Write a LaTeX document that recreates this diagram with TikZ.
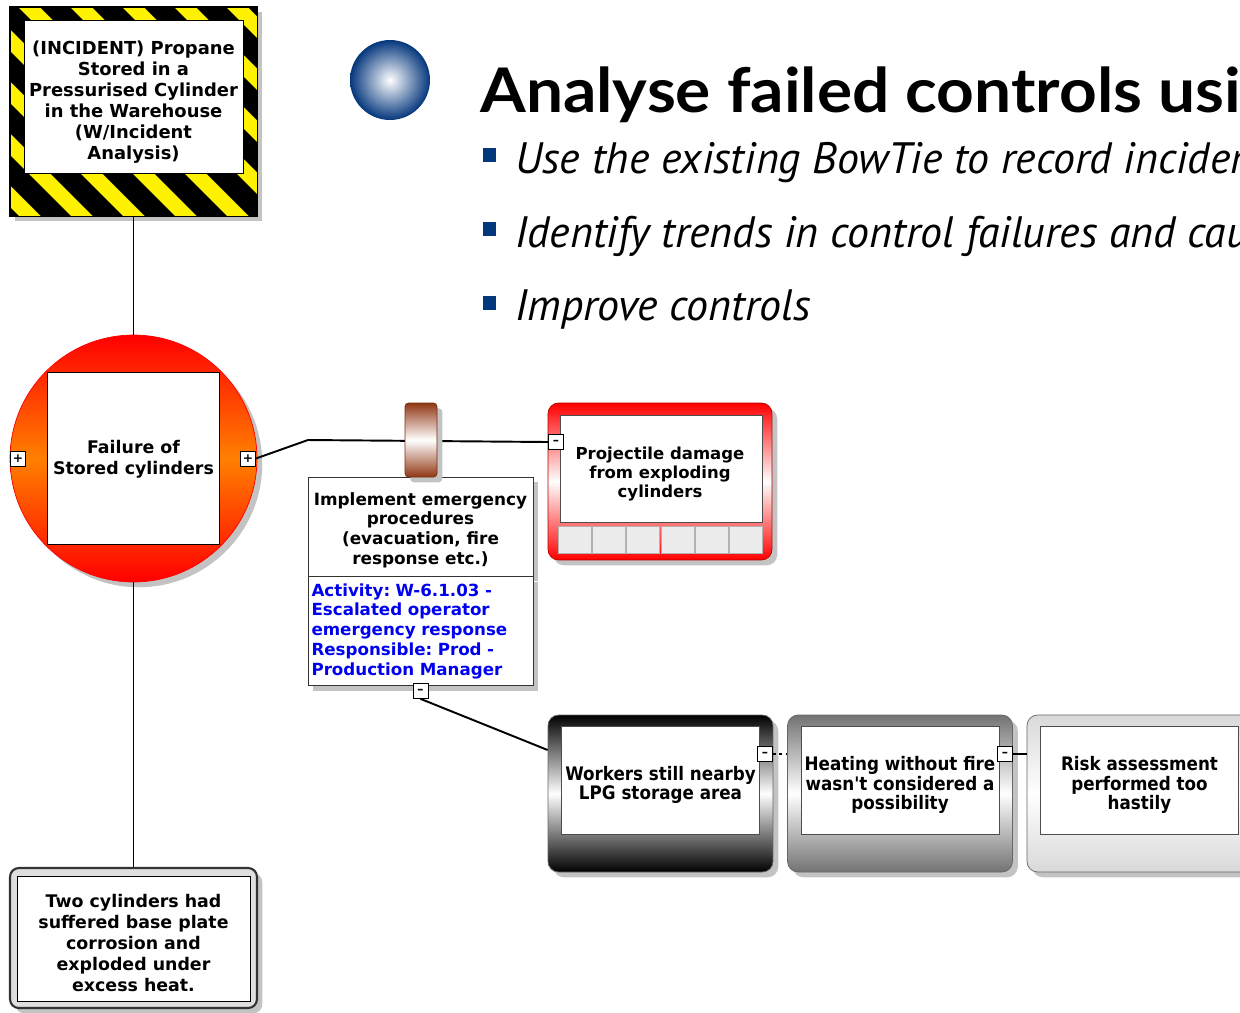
\documentclass[tikz,border=0pt]{standalone}
\usepackage{fontspec}
\setmainfont{DejaVu Sans}
\newfontfamily\condfont{DejaVu Sans Condensed}
\newfontfamily\slidefont[FakeStretch=1.07]{Lato}
\newfontfamily\bulletfont{PT Sans}
\usetikzlibrary{shadows}

\definecolor{slideblue}{RGB}{5,55,125}
\definecolor{barrierbrown}{RGB}{145,55,20}
\definecolor{infoblue}{RGB}{0,0,240}
\definecolor{shadowgrey}{RGB}{195,195,195}

\begin{document}
\frenchspacing
\begin{tikzpicture}[x=0.02cm,y=-0.02cm]
	\tikzset{txt/.style = {font=\bfseries\fontsize{9.9}{11.9}\selectfont, align=center, inner sep=0pt}}
	\tikzset{link/.style = {line width=1.1pt}}
	\tikzset{shadowed/.style = {drop shadow={shadow xshift=3pt, shadow yshift=-3pt, fill=shadowgrey, opacity=1}}}
	\tikzset{pm/.style = {draw, fill=white, minimum size=0.3cm, inner sep=0pt, font=\scriptsize\bfseries}}
	\tikzset{causeframe/.style = {draw=black!60, rounded corners=6pt, minimum width=4.5cm, minimum height=3.14cm, top color=#1, bottom color=#1, middle color=white, shadowed}}
	\tikzset{whitebox/.style = {draw=black!70, fill=white}}
	\tikzset{condtxt/.style = {align=center, inner sep=0pt, font=\condfont\bfseries\fontsize{10.6}{11}\selectfont}}
	\tikzset{bullet/.style = {fill=slideblue, minimum width=0.26cm, minimum height=0.28cm, inner sep=0pt}}
	\tikzset{point/.style = {anchor=base west, inner sep=0pt, font=\bulletfont\itshape\fontsize{25}{30}\selectfont}}

	\useasboundingbox (0,0) rectangle (1240,1012);
	\clip (0,0) rectangle (1240,1012);

	% hazard
	\node[draw, fill=yellow, minimum width=4.94cm, minimum height=4.18cm, shadowed] (hazard) at (133.5,111.5) {};
	\begin{scope}
		\clip (hazard.north west) rectangle (hazard.south east);
		\foreach \s in {-227,-175,...,241}
			\fill (\s,0) -- ++(30,0) -- ++(230,230) -- ++(-30,0) -- cycle;
	\end{scope}
	\draw[thick] (hazard.north west) rectangle (hazard.south east);
	\node[whitebox, draw=black, minimum width=4.38cm, minimum height=3.06cm] (hazardbox) at (133.5,96.5) {};
	\node[txt, font=\bfseries\fontsize{10.2}{11.9}\selectfont] (hazardtxt) at (133.5,102) {(INCIDENT) Propane\\Stored in a\\Pressurised Cylinder\\in the Warehouse\\(W/Incident\\Analysis)};

	% top event
	\node[circle, draw=red, minimum size=4.94cm, top color=red, bottom color=red, middle color=orange, shadowed] (top) at (133.5,458.5) {};
	\node[whitebox, draw=black, minimum size=3.44cm] (eventbox) at (top) {};
	\node[txt] (event) at (133.5,459) {Failure of\\Stored cylinders};
	\node[pm] (plusL) at (18,458.5) {+};
	\node[pm] (plusR) at (248,458.5) {+};

	% cause
	\node[draw=black!80, line width=1.2pt, rounded corners=5pt, fill=gray!25, minimum width=4.94cm, minimum height=2.8cm, shadowed] (cause) at (133.5,938) {};
	\node[whitebox, draw=black, minimum width=4.66cm, minimum height=2.5cm] (causebox) at (133.5,938.5) {};
	\node[txt] (causetxt) at (133.5,943) {Two cylinders had\\suffered base plate\\corrosion and\\exploded under\\excess heat.};

	% control
	\node[whitebox, draw=black!80, minimum width=4.5cm, minimum height=1.98cm, shadowed] (ctrl) at (420.5,526.5) {};
	\node[txt, font=\bfseries\fontsize{9.6}{11.2}\selectfont] (ctrltxt) at (420.5,530) {Implement emergency\\procedures\\(evacuation, fire\\response etc.)};
	\node[draw=black!80, fill=white, anchor=north, minimum width=4.5cm, minimum height=2.18cm, inner xsep=2pt, text width=4.36cm, align=left, text=infoblue, font=\bfseries\fontsize{9.5}{11.3}\selectfont, shadowed] (ctrlinfo) at (ctrl.south) {Activity: W-6.1.03 -\\Escalated operator\\emergency response\\Responsible: Prod -\\Production Manager};
	\node[pm] (minCtrl) at (420.5,691) {--};

	% consequence
	\node[draw=red!70!black, rounded corners=6pt, minimum width=4.48cm, minimum height=3.14cm, top color=red, bottom color=red, middle color=white, shadowed] (conseq) at (660,481.5) {};
	\node[whitebox, minimum width=4.04cm, minimum height=2.14cm] (conseqbox) at (661,468.5) {};
	\node[txt, font=\bfseries\fontsize{9.4}{11}\selectfont] (conseqtxt) at (660,474) {Projectile damage\\from exploding\\cylinders};
	\foreach \i in {0,...,5}
		\node[draw=gray!60, fill=gray!15, minimum width=0.66cm, minimum height=0.54cm, inner sep=0pt] (cell\i) at (574.5+34.3*\i,539.5) {};
	\node[pm] (minC) at (556,442) {--};

	% escalation factors
	\node[causeframe=black] (wk) at (660.5,793.5) {};
	\node[whitebox, minimum width=3.96cm, minimum height=2.16cm] (wkbox) at (660.5,780) {};
	\node[condtxt] (wktxt) at (660.5,785) {Workers still nearby\\LPG storage area};
	\node[pm] (minW) at (765,754) {--};
	\node[causeframe=black!55] (hf) at (900,793.5) {};
	\node[whitebox, minimum width=3.96cm, minimum height=2.16cm] (hfbox) at (900,780) {};
	\node[condtxt] (hftxt) at (900,785) {Heating without fire\\wasn't considered a\\possibility};
	\node[pm] (minH) at (1005,754) {--};
	\node[causeframe=black!15] (ra) at (1139.5,793.5) {};
	\node[whitebox, minimum width=3.96cm, minimum height=2.16cm] (rabox) at (1139.5,780) {};
	\node[condtxt] (ratxt) at (1139.5,785) {Risk assessment\\performed too\\hastily};

	% connectors
	\coordinate (kink) at (308,440);
	\draw[link] (hazard.south) -- (top.north);
	\draw[link] (top.south) -- (cause.north);
	\draw[link] (plusR.east) -- (kink) -- (minC.west);
	\draw[link] (minCtrl.south) -- ([yshift=0.87cm]wk.west);
	\draw[line width=1.6pt, dotted] (minW.east) -- (minW.east -| hf.west);
	\draw[link] (minH.east) -- (minH.east -| ra.west);

	\node[draw=barrierbrown!80!black, rounded corners=2pt, minimum width=0.64cm, minimum height=1.48cm, top color=barrierbrown, bottom color=barrierbrown, middle color=white, shadowed] (barrier) at (421,440) {};

	% slide text
	\node[circle, minimum size=1.6cm, inner color=white, outer color=slideblue] (ball) at (390,80) {};
	\node[anchor=base west, inner sep=0pt, font=\slidefont\bfseries\fontsize{35}{40}\selectfont] (title) at (480,112) {Analyse failed controls usi};
	\node[bullet] (sq1) at (489.5,155) {};
	\node[point] (b1) at (515,173) {Use the existing BowTie to record incider};
	\node[bullet] (sq2) at (489.5,229) {};
	\node[point] (b2) at (515,247) {Identify trends in control failures and cau};
	\node[bullet] (sq3) at (489.5,303) {};
	\node[point] (b3) at (515,320) {Improve controls};

\end{tikzpicture}
\end{document}
